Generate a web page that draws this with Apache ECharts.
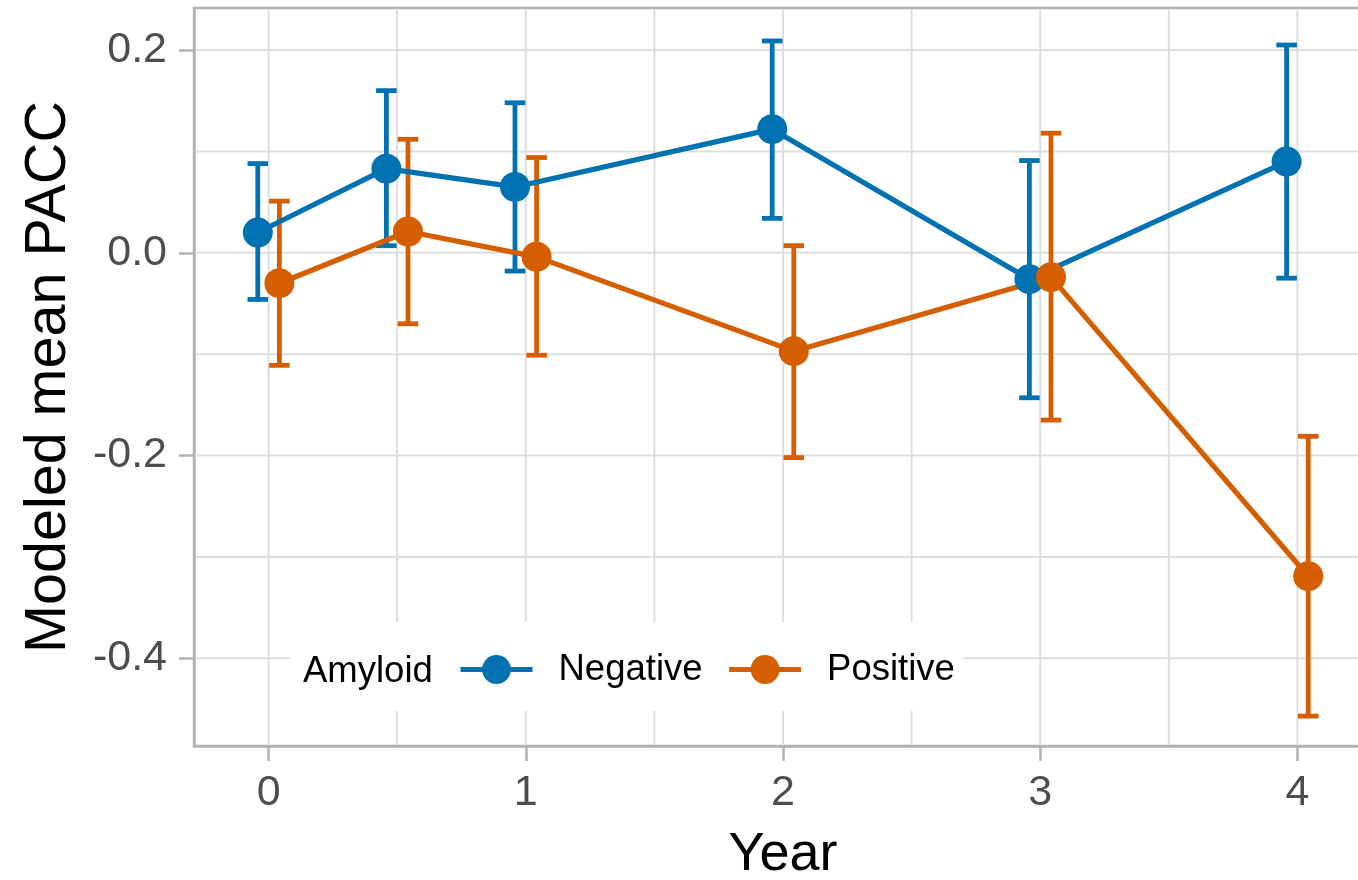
<!DOCTYPE html>
<html>
<head>
<meta charset="utf-8">
<title>Modeled mean PACC by year and amyloid status</title>
<script src="https://cdn.jsdelivr.net/npm/echarts@6/dist/echarts.min.js"></script>
<style>
  html, body { margin: 0; padding: 0; background: #ffffff; }
  #chart { width: 1358px; height: 880px; }
</style>
</head>
<body>
<div id="chart"></div>
<script>
// ---- data ----
const years = [0, 0.5, 1, 2, 3, 4];

const negativeMean = [0.020, 0.083, 0.065, 0.122, -0.026, 0.090];
const negativeLow  = [-0.046, 0.007, -0.018, 0.034, -0.143, -0.025];
const negativeHigh = [0.088, 0.160, 0.148, 0.209, 0.091, 0.205];

const positiveMean = [-0.030, 0.021, -0.004, -0.097, -0.024, -0.319];
const positiveLow  = [-0.111, -0.070, -0.101, -0.202, -0.165, -0.457];
const positiveHigh = [0.051, 0.112, 0.094, 0.007, 0.118, -0.181];

const xTickValues = [0, 1, 2, 3, 4];
const yTickValues = [-0.4, -0.2, 0.0, 0.2];
const xGridValues = [0, 0.5, 1, 1.5, 2, 2.5, 3, 3.5, 4];
const yGridValues = [-0.4, -0.3, -0.2, -0.1, 0.0, 0.1, 0.2];

// ---- layout / style ----
const DODGE = 0.042;          // horizontal offset between groups
const CAP_WIDTH = 0.08;       // error bar cap width in year units
const BLUE = '#0072B2';
const ORANGE = '#D55E00';
const FONT = '"Liberation Sans", Arial, Helvetica, sans-serif';
const FRAME = '#b3b3b3';
const GRID_LINE = '#dedede';

function pairs(offset, values) {
  return years.map((yr, i) => [yr + offset, values[i]]);
}
function bars(offset, lows, highs) {
  return years.map((yr, i) => [yr + offset, lows[i], highs[i]]);
}

function errorBarRenderer(color) {
  return function (params, api) {
    const x = api.value(0);
    const lo = api.value(1);
    const hi = api.value(2);
    const pLo = api.coord([x, lo]);
    const pHi = api.coord([x, hi]);
    const half = Math.abs(api.coord([x + CAP_WIDTH / 2, lo])[0] - pLo[0]);
    const style = { stroke: color, lineWidth: 4.8, fill: null };
    return {
      type: 'group',
      children: [
        { type: 'line', shape: { x1: pLo[0], y1: pLo[1], x2: pHi[0], y2: pHi[1] }, style },
        { type: 'line', shape: { x1: pHi[0] - half, y1: pHi[1], x2: pHi[0] + half, y2: pHi[1] }, style },
        { type: 'line', shape: { x1: pLo[0] - half, y1: pLo[1], x2: pLo[0] + half, y2: pLo[1] }, style }
      ]
    };
  };
}

// panel grid lines (major and minor share one style)
function gridRenderer(params, api) {
  const rect = params.coordSys;
  const children = [];
  const style = { stroke: GRID_LINE, lineWidth: 2, fill: null };
  yGridValues.forEach(v => {
    const y = api.coord([0, v])[1];
    children.push({ type: 'line', shape: { x1: rect.x + 1.5, y1: y, x2: rect.x + rect.width, y2: y }, style });
  });
  xGridValues.forEach(v => {
    const x = api.coord([v, 0])[0];
    children.push({ type: 'line', shape: { x1: x, y1: rect.y + 1.5, x2: x, y2: rect.y + rect.height - 1.5 }, style });
  });
  return { type: 'group', children };
}

const chart = echarts.init(document.getElementById('chart'), null, { renderer: 'canvas' });

const axisLabelBase = { color: '#4d4d4d', fontSize: 43, fontFamily: FONT };
const frameLine = { show: true, onZero: false, lineStyle: { color: FRAME, width: 2.5 } };

chart.setOption({
  animation: false,
  backgroundColor: '#ffffff',
  textStyle: { fontFamily: FONT },
  grid: {
    left: 194, right: -14, top: 8, bottom: 134,
    show: true, borderColor: FRAME, borderWidth: 2.5,
    outerBoundsMode: 'none', containLabel: false
  },
  xAxis: {
    type: 'value', min: -0.29, max: 4.29,
    name: 'Year', nameLocation: 'middle', nameGap: 82,
    nameTextStyle: { fontSize: 54, color: '#000000', fontFamily: FONT },
    axisLine: frameLine,
    axisTick: { show: true, length: 15, lineStyle: { color: FRAME, width: 2.5 }, customValues: xTickValues },
    axisLabel: Object.assign({ margin: 26, customValues: xTickValues, formatter: v => String(v) }, axisLabelBase),
    splitLine: { show: false }
  },
  yAxis: {
    type: 'value', min: -0.4865, max: 0.2415,
    name: 'Modeled mean PACC', nameLocation: 'middle', nameGap: 116, nameRotate: 90,
    nameTextStyle: { fontSize: 57.5, color: '#000000', fontFamily: FONT },
    axisLine: frameLine,
    axisTick: { show: true, length: 15, lineStyle: { color: FRAME, width: 2.5 }, customValues: yTickValues },
    axisLabel: Object.assign({ margin: 27, customValues: yTickValues, formatter: v => v.toFixed(1) }, axisLabelBase),
    splitLine: { show: false }
  },
  legend: {
    data: ['Negative', 'Positive'],
    left: 290, top: 622,
    orient: 'horizontal',
    backgroundColor: '#ffffff',
    padding: [29, 8, 23, 168],
    itemWidth: 72, itemHeight: 36, itemGap: 24,
    lineStyle: { width: 5 },
    textStyle: { fontSize: 36.5, color: '#000000', fontFamily: FONT, padding: [0, 0, 0, 21] },
    selectedMode: false
  },
  graphic: [{
    type: 'text', left: 303, top: 653, z: 100,
    style: { text: 'Amyloid', fontSize: 36.5, fill: '#000000', fontFamily: FONT }
  }],
  series: [
    {
      type: 'custom', name: 'grid', silent: true, z: 1,
      renderItem: gridRenderer, data: [[0, 0]], clip: true
    },
    {
      type: 'custom', name: 'NegativeErr', z: 2, silent: true,
      renderItem: errorBarRenderer(BLUE),
      encode: { x: 0, y: [1, 2] },
      data: bars(-DODGE, negativeLow, negativeHigh)
    },
    {
      type: 'custom', name: 'PositiveErr', z: 2, silent: true,
      renderItem: errorBarRenderer(ORANGE),
      encode: { x: 0, y: [1, 2] },
      data: bars(DODGE, positiveLow, positiveHigh)
    },
    {
      type: 'line', name: 'Negative', z: 3, silent: true,
      data: pairs(-DODGE, negativeMean),
      symbol: 'none', color: BLUE,
      itemStyle: { color: BLUE },
      lineStyle: { color: BLUE, width: 5.2 },
      emphasis: { disabled: true }
    },
    {
      type: 'line', name: 'Positive', z: 3, silent: true,
      data: pairs(DODGE, positiveMean),
      symbol: 'none', color: ORANGE,
      itemStyle: { color: ORANGE },
      lineStyle: { color: ORANGE, width: 5.2 },
      emphasis: { disabled: true }
    },
    {
      type: 'scatter', name: 'Negative', z: 4, silent: true,
      data: pairs(-DODGE, negativeMean),
      symbol: 'circle', symbolSize: 30,
      itemStyle: { color: BLUE, opacity: 1 },
      emphasis: { disabled: true }
    },
    {
      type: 'scatter', name: 'Positive', z: 4, silent: true,
      data: pairs(DODGE, positiveMean),
      symbol: 'circle', symbolSize: 30,
      itemStyle: { color: ORANGE, opacity: 1 },
      emphasis: { disabled: true }
    }
  ]
});
</script>
</body>
</html>
